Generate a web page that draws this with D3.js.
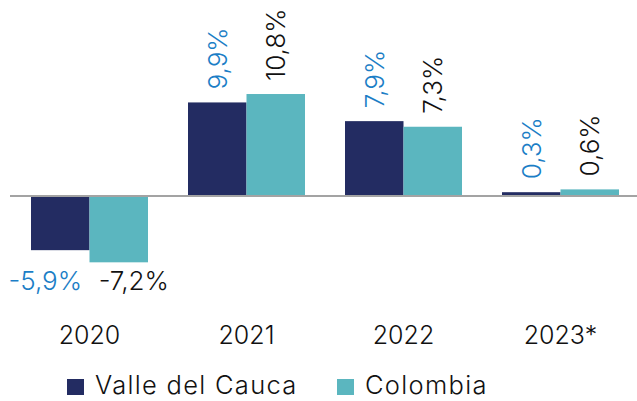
<!DOCTYPE html>
<html><head><meta charset="utf-8">
<script src="https://cdn.jsdelivr.net/npm/d3@7"></script>
<style>html,body{margin:0;padding:0;background:#fff;}svg{display:block;font-family:Inter, "Noto Sans", sans-serif;font-weight:300;}</style>
</head><body><svg id="c" width="637" height="401"></svg>
<script>
const years = ["2020", "2021", "2022", "2023*"];
const seriesNames = ["Valle del Cauca", "Colombia"];
const valle = [-5.9, 9.9, 7.9, 0.3];
const colombia = [-7.2, 10.8, 7.3, 0.6];
const barColors = ["#232c62", "#5bb6bf"];
const labelColors = ["#1b7ec6", "#111111"];
const fmt = v => d3.format(".1f")(v).replace(".", ",").replace("\u2212", "-") + "%";

const svg = d3.select("#c");
const x0 = d3.scaleBand().domain(years).range([11, 639]).paddingInner(40/157).paddingOuter(20/157);
const x1 = d3.scaleBand().domain(seriesNames).range([0, x0.bandwidth()]);
const y = d3.scaleLinear().domain([-8, 12]).range([195 + 8*9.35, 195 - 12*9.35]);

const data = years.map((yr, i) => ({year: yr, vals: [valle[i], colombia[i]]}));

const g = svg.selectAll("g.grp").data(data).join("g").attr("class","grp")
  .attr("transform", d => `translate(${x0(d.year)},0)`);

g.selectAll("rect").data(d => d.vals.map((v, j) => ({v, j, name: seriesNames[j]})))
  .join("rect")
  .attr("x", d => x1(d.name))
  .attr("width", x1.bandwidth())
  .attr("y", d => y(Math.max(0, d.v)))
  .attr("height", d => Math.abs(y(d.v) - y(0)))
  .attr("fill", d => barColors[d.j]);

// baseline
svg.append("line").attr("x1", 10).attr("x2", 637).attr("y1", y(0)+1).attr("y2", y(0)+1)
  .attr("stroke", "#a3a3a3").attr("stroke-width", 2);

// value labels
g.each(function(d) {
  const gg = d3.select(this);
  const minV = d3.min(d.vals);
  d.vals.forEach((v, j) => {
    const cx = x1(seriesNames[j]) + x1.bandwidth()/2;
    if (v >= 0) {
      gg.append("text")
        .attr("transform", `translate(${cx},${y(v) - 13}) rotate(-90)`)
        .attr("dy", "0.36em")
        .attr("text-anchor", "start")
        .attr("font-size", 26)
        .attr("fill", labelColors[j])
        .text(fmt(v));
    } else {
      gg.append("text")
        .attr("x", cx + (j === 0 ? -15 : 15))
        .attr("y", y(minV) + 28)
        .attr("text-anchor", "middle")
        .attr("font-size", 26)
        .attr("fill", labelColors[j])
        .text(fmt(v));
    }
  });
});

// year axis labels
const xAxis = d3.axisBottom(x0).tickSize(0).tickPadding(0);
const ax = svg.append("g").attr("transform", `translate(0,${y(0)})`).call(xAxis);
ax.select(".domain").remove();
ax.selectAll("text").attr("font-size", 25).attr("font-family", "Inter, 'Noto Sans', sans-serif")
  .attr("font-weight", 300).attr("fill", "#111").attr("dy", null).attr("y", 149);

// legend
const legX = [67, 337];
const leg = svg.selectAll("g.leg").data(seriesNames).join("g").attr("class","leg")
  .attr("transform", (d, i) => `translate(${legX[i]},379)`);
leg.append("rect").attr("width", 17).attr("height", 16).attr("fill", (d, i) => barColors[i]);
leg.append("text").attr("x", 28).attr("y", 15).attr("font-size", 25.5).attr("letter-spacing", 1.3)
  .attr("fill", "#111").text(d => d);
</script></body></html>
